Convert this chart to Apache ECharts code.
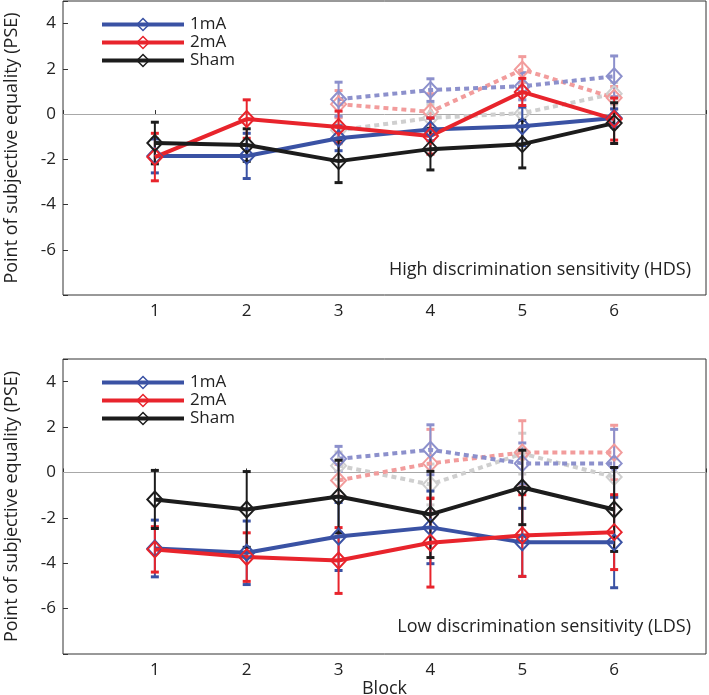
<!DOCTYPE html>
<html>
<head>
<meta charset="utf-8">
<script src="https://cdn.jsdelivr.net/npm/echarts@6/dist/echarts.min.js"></script>
<style>
  html, body { margin: 0; padding: 0; background: #fff; }
  #chart { width: 709px; height: 695px; }
</style>
</head>
<body>
<div id="chart"></div>
<script>
// blocks on the x axis
const blocks = [1, 2, 3, 4, 5, 6]
const postBlocks = [3, 4, 5, 6]

// High discrimination sensitivity (HDS)
const hds1mA = [-1.85, -1.85, -1.07, -0.68, -0.54, -0.17]
const hds1mAErr = [0.75, 1.0, 0.55, 0.5, 0.85, 0.4]
const hds2mA = [-1.9, -0.22, -0.57, -0.97, 0.98, -0.22]
const hds2mAErr = [1.05, 0.85, 0.7, 0.8, 0.6, 0.93]
const hdsSham = [-1.28, -1.37, -2.08, -1.55, -1.33, -0.4]
const hdsShamErr = [0.92, 0.72, 0.95, 0.92, 1.05, 0.9]
const hds1mAPost = [0.66, 1.06, 1.23, 1.67]
const hds1mAPostErr = [0.75, 0.5, 0.6, 0.9]
const hds2mAPost = [0.44, 0.1, 1.97, 0.72]
const hds2mAPostErr = [0.6, 0.8, 0.57, 0.5]
const hdsShamPost = [-0.72, -0.17, 0.04, 0.9]
const hdsShamPostErr = [0.6, 0.6, 0.6, 0.5]

// Low discrimination sensitivity (LDS)
const lds1mA = [-3.35, -3.54, -2.82, -2.42, -3.08, -3.08]
const lds1mAErr = [1.25, 1.4, 1.5, 1.6, 1.5, 2.0]
const lds2mA = [-3.39, -3.73, -3.88, -3.1, -2.78, -2.63]
const lds2mAErr = [1.0, 1.07, 1.45, 1.95, 1.8, 1.65]
const ldsSham = [-1.19, -1.63, -1.06, -1.85, -0.66, -1.63]
const ldsShamErr = [1.28, 1.67, 1.6, 1.9, 1.64, 1.85]
const lds1mAPost = [0.6, 1.0, 0.4, 0.4]
const lds1mAPostErr = [0.55, 1.1, 0.9, 1.5]
const lds2mAPost = [-0.35, 0.4, 0.88, 0.88]
const lds2mAPostErr = [0.7, 1.5, 1.4, 1.2]
const ldsShamPost = [0.3, -0.53, 0.83, -0.2]
const ldsShamPostErr = [0.6, 0.9, 0.9, 0.8]

const yTicks = [4, 2, 0, -2, -4, -6]
const legendNames = ["1mA", "2mA", "Sham"]

const FONT = "Open Sans"
const C = { blue: "#3a52a4", red: "#e8242c", black: "#1c1c1c",
  lblue: "#8c90cc", lred: "#f29c9c", lgray: "#cfcfcf" }

const chart = echarts.init(document.getElementById("chart"))

function pts(xs, ys) {
  return xs.map((x, i) => [x, ys[i]])
}
function errData(xs, ys, es) {
  return xs.map((x, i) => [x, ys[i] - es[i], ys[i] + es[i]])
}

function lineSeries(name, gi, xs, ys, color, dashed) {
  return {
    name: name,
    type: "line",
    xAxisIndex: gi, yAxisIndex: gi,
    data: pts(xs, ys),
    symbol: "diamond",
    symbolSize: [15, 16],
    z: dashed ? 3 : 6,
    lineStyle: { color: color, width: 4, type: dashed ? [5, 4] : "solid" },
    itemStyle: { color: "rgba(0,0,0,0)", borderColor: color, borderWidth: 2 },
    emphasis: { disabled: true },
    animation: false,
  }
}

function errSeries(gi, xs, ys, es, color, dashed) {
  return {
    type: "custom",
    xAxisIndex: gi, yAxisIndex: gi,
    data: errData(xs, ys, es),
    encode: { x: 0, y: [1, 2] },
    z: dashed ? 2 : 5,
    silent: true,
    animation: false,
    renderItem(params, api) {
      const top = api.coord([api.value(0), api.value(2)])
      const bot = api.coord([api.value(0), api.value(1)])
      const cw = 4
      const st = { stroke: color, lineWidth: 2 }
      return {
        type: "group",
        children: [
          { type: "line", shape: { x1: top[0], y1: top[1], x2: bot[0], y2: bot[1] }, style: st },
          { type: "line", shape: { x1: top[0] - cw, y1: top[1], x2: top[0] + cw, y2: top[1] }, style: { stroke: color, lineWidth: 3 } },
          { type: "line", shape: { x1: bot[0] - cw, y1: bot[1], x2: bot[0] + cw, y2: bot[1] }, style: { stroke: color, lineWidth: 3 } },
        ],
      }
    },
  }
}

function panel(gi, s1, e1, s2, e2, s3, e3, p1, pe1, p2, pe2, p3, pe3) {
  return [
    errSeries(gi, postBlocks, p3, pe3, C.lgray, true),
    errSeries(gi, postBlocks, p2, pe2, C.lred, true),
    errSeries(gi, postBlocks, p1, pe1, C.lblue, true),
    lineSeries("Sham post", gi, postBlocks, p3, C.lgray, true),
    lineSeries("2mA post", gi, postBlocks, p2, C.lred, true),
    lineSeries("1mA post", gi, postBlocks, p1, C.lblue, true),
    errSeries(gi, blocks, s1, e1, C.blue, false),
    errSeries(gi, blocks, s2, e2, C.red, false),
    errSeries(gi, blocks, s3, e3, C.black, false),
    Object.assign(lineSeries("1mA", gi, blocks, s1, C.blue, false), {
      markLine: {
        silent: true, symbol: "none", z: 1,
        label: { show: false },
        lineStyle: { color: "#a8a8a8", width: 1, type: "solid" },
        data: [{ yAxis: 0 }],
      },
    }),
    lineSeries("2mA", gi, blocks, s2, C.red, false),
    lineSeries("Sham", gi, blocks, s3, C.black, false),
  ]
}

function xAxis(gi, withName) {
  return {
    type: "value", gridIndex: gi, min: 0, max: 7, interval: 1,
    name: withName ? "Block" : "",
    nameLocation: "middle", nameGap: 24,
    nameTextStyle: { fontFamily: FONT, fontSize: 18, color: "#222" },
    axisLine: { show: false },
    axisTick: { inside: true, length: 4, lineStyle: { color: "#333" } },
    splitLine: { show: false },
    axisLabel: {
      fontFamily: FONT, fontSize: 17, color: "#222", margin: 8,
      formatter: v => (blocks.includes(v) ? String(v) : ""),
    },
  }
}

function yAxis(gi) {
  return {
    type: "value", gridIndex: gi, min: -8, max: 5, interval: 2,
    name: "Point of subjective equality (PSE)",
    nameLocation: "middle", nameRotate: 90, nameGap: 42,
    nameTextStyle: { fontFamily: FONT, fontSize: 18, color: "#222" },
    axisLine: { show: false },
    axisTick: { inside: true, length: 5, lineStyle: { color: "#333" } },
    splitLine: { show: false },
    axisLabel: {
      fontFamily: FONT, fontSize: 17, color: "#222", margin: 7,
      formatter: v => (yTicks.includes(v) ? String(v) : ""),
    },
  }
}

function legend(top) {
  return {
    data: legendNames, left: 95, top: top, orient: "vertical",
    itemWidth: 82, itemHeight: 15, itemGap: 1,
    selectedMode: false,
    lineStyle: { width: 4 },
    itemStyle: { borderWidth: 1.5 },
    textStyle: { fontFamily: FONT, fontSize: 17, lineHeight: 15, color: "#222", padding: [0, 0, 0, 1] },
  }
}

chart.setOption({
  backgroundColor: "#fff",
  grid: [
    { left: 63, top: 1, width: 643, height: 294, show: true, borderColor: "#333", borderWidth: 1, backgroundColor: "transparent", outerBoundsMode: "none" },
    { left: 63, top: 359, width: 643, height: 295, show: true, borderColor: "#333", borderWidth: 1, backgroundColor: "transparent", outerBoundsMode: "none" },
  ],
  xAxis: [xAxis(0, false), xAxis(1, true)],
  yAxis: [yAxis(0), yAxis(1)],
  legend: [legend(11), legend(369)],
  graphic: [
    { type: "text", right: 18, top: 261, style: { text: "High discrimination sensitivity (HDS)", font: "18px " + FONT, fill: "#222" } },
    { type: "text", right: 18, top: 618, style: { text: "Low discrimination sensitivity (LDS)", font: "18px " + FONT, fill: "#222" } },
  ],
  series: [
    ...panel(0, hds1mA, hds1mAErr, hds2mA, hds2mAErr, hdsSham, hdsShamErr,
      hds1mAPost, hds1mAPostErr, hds2mAPost, hds2mAPostErr, hdsShamPost, hdsShamPostErr),
    ...panel(1, lds1mA, lds1mAErr, lds2mA, lds2mAErr, ldsSham, ldsShamErr,
      lds1mAPost, lds1mAPostErr, lds2mAPost, lds2mAPostErr, ldsShamPost, ldsShamPostErr),
  ],
})
</script>
</body>
</html>
